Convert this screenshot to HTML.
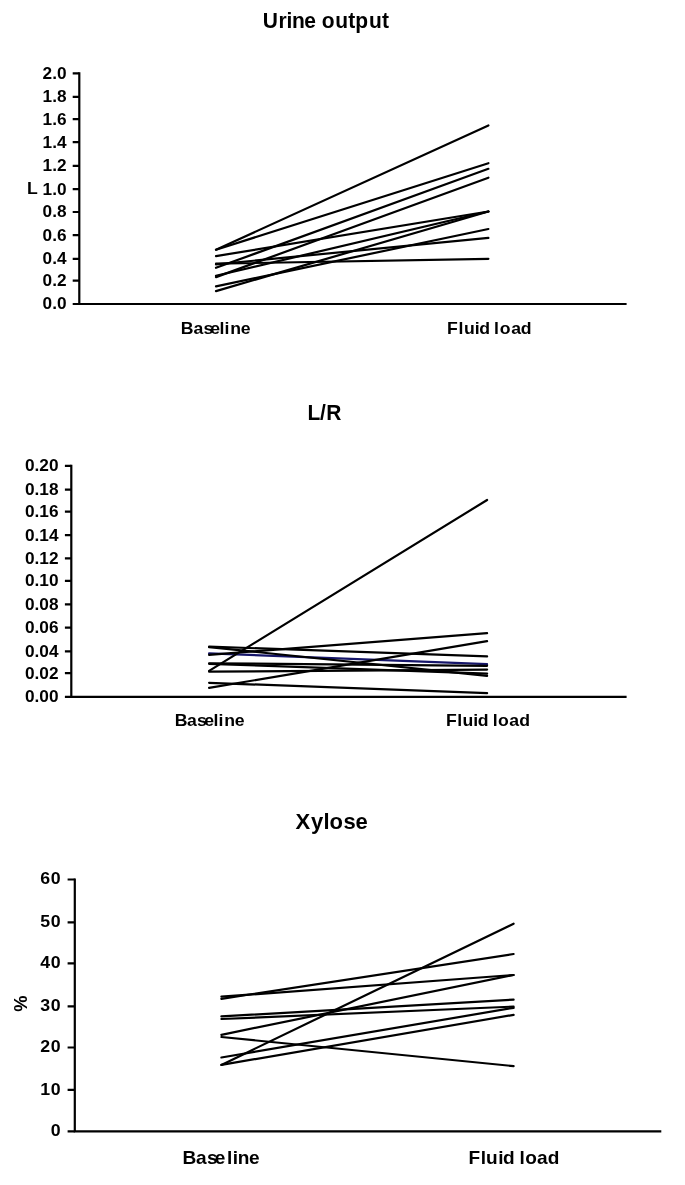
<!DOCTYPE html>
<html lang="en"><head><meta charset="utf-8"><title>Urine output, L/R and Xylose: Baseline vs Fluid load</title>
<style>html,body{margin:0;padding:0;background:#fff}body{width:685px;height:1185px;overflow:hidden}svg{display:block}text{font-family:"Liberation Sans", Arial, Helvetica, sans-serif;font-weight:bold;fill:#000}.ax{stroke:#000;stroke-width:2.2;fill:none}.ln{stroke:#000;stroke-width:2.2;fill:none;stroke-linecap:round}</style></head><body>
<svg width="685" height="1185" viewBox="0 0 685 1185">
<rect width="685" height="1185" fill="#fff"/>
<text transform="translate(0 27.70) scale(1.000 1.030)" x="262.84 278.62 286.43 291.92 304.18 315.86 321.68 335.30 348.34 355.32 368.90 382.04" y="0" font-size="21.00">Urine output</text>
<path class="ax" d="M79.30 72.30V304.00H626.60"/>
<text transform="translate(66.70 309.42) scale(1.070 1)" font-size="16.10" letter-spacing="0.10" text-anchor="end">0.0</text>
<text transform="translate(66.70 286.12) scale(1.070 1)" font-size="16.10" letter-spacing="0.10" text-anchor="end">0.2</text>
<text transform="translate(66.70 264.22) scale(1.070 1)" font-size="16.10" letter-spacing="0.10" text-anchor="end">0.4</text>
<text transform="translate(66.70 240.62) scale(1.070 1)" font-size="16.10" letter-spacing="0.10" text-anchor="end">0.6</text>
<text transform="translate(66.70 217.42) scale(1.070 1)" font-size="16.10" letter-spacing="0.10" text-anchor="end">0.8</text>
<text transform="translate(66.70 194.62) scale(1.070 1)" font-size="16.10" letter-spacing="0.10" text-anchor="end">1.0</text>
<text transform="translate(66.70 171.22) scale(1.070 1)" font-size="16.10" letter-spacing="0.10" text-anchor="end">1.2</text>
<text transform="translate(66.70 147.62) scale(1.070 1)" font-size="16.10" letter-spacing="0.10" text-anchor="end">1.4</text>
<text transform="translate(66.70 124.52) scale(1.070 1)" font-size="16.10" letter-spacing="0.10" text-anchor="end">1.6</text>
<text transform="translate(66.70 102.32) scale(1.070 1)" font-size="16.10" letter-spacing="0.10" text-anchor="end">1.8</text>
<text transform="translate(66.70 78.82) scale(1.070 1)" font-size="16.10" letter-spacing="0.10" text-anchor="end">2.0</text>
<path class="ax" d="M72.70 304.00H79.30M72.70 280.70H79.30M72.70 258.80H79.30M72.70 235.20H79.30M72.70 212.00H79.30M72.70 189.20H79.30M72.70 165.80H79.30M72.70 142.20H79.30M72.70 119.10H79.30M72.70 96.90H79.30M72.70 73.40H79.30"/>
<path class="ln" d="M216.00 249.70L488.40 125.50"/>
<path class="ln" d="M216.00 249.70L488.40 163.20"/>
<path class="ln" d="M216.00 267.80L488.40 168.80"/>
<path class="ln" d="M216.00 277.10L488.40 177.70"/>
<path class="ln" d="M216.00 256.10L488.40 211.50"/>
<path class="ln" d="M216.00 275.80L488.40 211.50"/>
<path class="ln" d="M216.00 291.10L488.40 211.50"/>
<path class="ln" d="M216.00 286.30L488.40 229.00"/>
<path class="ln" d="M216.00 264.40L488.40 237.80"/>
<path class="ln" d="M216.00 263.70L488.40 258.80"/>
<text transform="translate(0 193.90) scale(1.050 1.000)" x="25.73" y="0" font-size="16.80">L</text>
<text transform="translate(0 333.50) scale(1.050 1.000)" x="172.21 184.36 193.70 200.30 209.02 213.87 219.37 229.34" y="0" font-size="16.80">Baseline</text>
<text transform="translate(0 333.50) scale(1.050 1.000)" x="425.83 436.73 441.82 452.07 456.55 466.81 470.45 476.01 486.84 495.98" y="0" font-size="16.80">Fluid load</text>
<text transform="translate(0 419.90) scale(1.000 1.030)" x="307.50 319.89 326.20" y="0" font-size="21.00">L/R</text>
<path class="ax" d="M71.30 464.80V696.90H626.60"/>
<text transform="translate(58.49 702.32) scale(1.070 1)" font-size="16.10" letter-spacing="0.00" text-anchor="end">0.00</text>
<text transform="translate(58.49 678.62) scale(1.070 1)" font-size="16.10" letter-spacing="0.00" text-anchor="end">0.02</text>
<text transform="translate(58.49 656.72) scale(1.070 1)" font-size="16.10" letter-spacing="0.00" text-anchor="end">0.04</text>
<text transform="translate(58.49 633.02) scale(1.070 1)" font-size="16.10" letter-spacing="0.00" text-anchor="end">0.06</text>
<text transform="translate(58.49 609.72) scale(1.070 1)" font-size="16.10" letter-spacing="0.00" text-anchor="end">0.08</text>
<text transform="translate(58.49 586.22) scale(1.070 1)" font-size="16.10" letter-spacing="0.00" text-anchor="end">0.10</text>
<text transform="translate(58.49 563.72) scale(1.070 1)" font-size="16.10" letter-spacing="0.00" text-anchor="end">0.12</text>
<text transform="translate(58.49 540.62) scale(1.070 1)" font-size="16.10" letter-spacing="0.00" text-anchor="end">0.14</text>
<text transform="translate(58.49 517.12) scale(1.070 1)" font-size="16.10" letter-spacing="0.00" text-anchor="end">0.16</text>
<text transform="translate(58.49 495.12) scale(1.070 1)" font-size="16.10" letter-spacing="0.00" text-anchor="end">0.18</text>
<text transform="translate(58.49 471.32) scale(1.070 1)" font-size="16.10" letter-spacing="0.00" text-anchor="end">0.20</text>
<path class="ax" d="M64.90 696.90H71.30M64.90 673.20H71.30M64.90 651.30H71.30M64.90 627.60H71.30M64.90 604.30H71.30M64.90 580.80H71.30M64.90 558.30H71.30M64.90 535.20H71.30M64.90 511.70H71.30M64.90 489.70H71.30M64.90 465.90H71.30"/>
<path class="ln" d="M209.10 653.40L487.10 664.20" style="stroke:#16166a"/>
<path class="ln" d="M209.10 670.90L487.10 500.00"/>
<path class="ln" d="M209.10 687.90L487.10 641.10"/>
<path class="ln" d="M209.10 682.80L487.10 693.10"/>
<path class="ln" d="M209.10 671.70L487.10 669.60"/>
<path class="ln" d="M209.10 654.90L487.10 633.10"/>
<path class="ln" d="M209.10 646.60L487.10 656.40"/>
<path class="ln" d="M209.10 647.10L487.10 675.90"/>
<path class="ln" d="M209.10 663.30L487.10 665.80"/>
<path class="ln" d="M209.10 663.80L487.10 673.60"/>
<text transform="translate(0 726.30) scale(1.050 1.000)" x="166.50 178.17 187.60 194.58 203.30 208.16 213.65 223.63" y="0" font-size="16.80">Baseline</text>
<text transform="translate(0 726.30) scale(1.050 1.000)" x="424.88 435.40 440.58 450.73 455.03 465.29 469.21 474.39 484.94 494.45" y="0" font-size="16.80">Fluid load</text>
<text transform="translate(0 828.70) scale(1.000 1.030)" x="295.41 310.93 323.56 329.44 343.53 355.54" y="0" font-size="22.00">Xylose</text>
<path class="ax" d="M74.80 878.40V1131.40H661.30"/>
<text transform="translate(61.35 1136.29) scale(1.070 1)" font-size="16.60" letter-spacing="0.60" text-anchor="end">0</text>
<text transform="translate(61.35 1094.79) scale(1.070 1)" font-size="16.60" letter-spacing="0.60" text-anchor="end">10</text>
<text transform="translate(61.35 1052.39) scale(1.070 1)" font-size="16.60" letter-spacing="0.60" text-anchor="end">20</text>
<text transform="translate(61.35 1011.19) scale(1.070 1)" font-size="16.60" letter-spacing="0.60" text-anchor="end">30</text>
<text transform="translate(61.35 968.29) scale(1.070 1)" font-size="16.60" letter-spacing="0.60" text-anchor="end">40</text>
<text transform="translate(61.35 927.29) scale(1.070 1)" font-size="16.60" letter-spacing="0.60" text-anchor="end">50</text>
<text transform="translate(61.35 884.39) scale(1.070 1)" font-size="16.60" letter-spacing="0.60" text-anchor="end">60</text>
<path class="ax" d="M67.60 1131.40H74.80M67.60 1089.90H74.80M67.60 1047.50H74.80M67.60 1006.30H74.80M67.60 963.40H74.80M67.60 922.40H74.80M67.60 879.50H74.80"/>
<path class="ln" d="M221.40 1064.90L513.60 923.70"/>
<path class="ln" d="M221.40 998.80L513.60 954.00"/>
<path class="ln" d="M221.40 996.70L513.60 975.00"/>
<path class="ln" d="M221.40 1034.80L513.60 975.00"/>
<path class="ln" d="M221.40 1016.40L513.60 999.60"/>
<path class="ln" d="M221.40 1019.00L513.60 1006.60"/>
<path class="ln" d="M221.40 1057.50L513.60 1007.80"/>
<path class="ln" d="M221.40 1064.90L513.60 1014.80"/>
<path class="ln" d="M221.40 1037.00L513.60 1066.10"/>
<text transform="translate(26.5 1003.7) rotate(-90)" font-size="18.3" text-anchor="middle">%</text>
<text transform="translate(0 1163.60) scale(1.060 1.000)" x="172.19 184.94 195.22 202.60 214.12 219.50 224.29 234.86" y="0" font-size="18.00">Baseline</text>
<text transform="translate(0 1163.60) scale(1.060 1.000)" x="442.00 453.46 458.41 469.97 474.45 485.45 490.16 495.52 506.64 516.71" y="0" font-size="18.00">Fluid load</text>
</svg></body></html>
